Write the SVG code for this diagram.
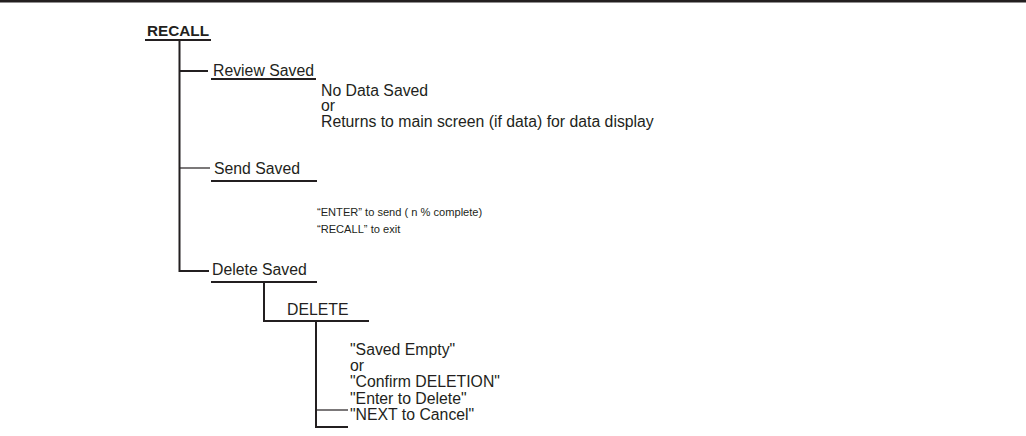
<svg xmlns="http://www.w3.org/2000/svg" width="1026" height="436" viewBox="0 0 1026 436">
<style>
.t{font-family:"Liberation Sans",Arial,sans-serif;font-size:15.8px;fill:#231f20}
.s{font-family:"Liberation Sans",Arial,sans-serif;font-size:11.1px;fill:#231f20}
.b{font-family:"Liberation Sans",Arial,sans-serif;font-size:15.3px;font-weight:bold;fill:#231f20}
.l{stroke:#231f20;stroke-width:2;fill:none}
.th{stroke:#231f20;stroke-width:1.2;fill:none}
</style>
<rect width="1026" height="436" fill="#ffffff"/>
<line x1="0" y1="1.2" x2="1026" y2="1.2" stroke="#231f20" stroke-width="2.4"/>
<g id="connectors">
<polyline class="l" points="179.5,40 179.5,271 209,271"/>
<line class="l" x1="179.5" y1="71" x2="208" y2="71"/>
<line class="th" x1="179.5" y1="168" x2="210" y2="168"/>
<polyline class="l" points="264,282 264,321"/>
<polyline class="l" points="316,321 316,427 348,427"/>
<line class="th" x1="316" y1="410" x2="348" y2="410"/>
</g>
<g id="recall">
<text class="b" x="147" y="36">RECALL</text>
<line class="l" x1="145" y1="40" x2="211" y2="40"/>
</g>
<g id="review-saved">
<text class="t" x="213" y="76">Review Saved</text>
<line class="l" x1="211" y1="79" x2="316" y2="79"/>
</g>
<g id="review-result">
<text class="t" x="321" y="96">No Data Saved</text>
<text class="t" x="321" y="111">or</text>
<text class="t" x="321" y="127">Returns to main screen (if data) for data display</text>
</g>
<g id="send-saved">
<text class="t" x="214" y="174">Send Saved</text>
<line class="l" x1="211" y1="181" x2="317" y2="181"/>
</g>
<g id="send-result">
<text class="s" x="317" y="216">“ENTER” to send ( n % complete)</text>
<text class="s" x="317" y="233">“RECALL” to exit</text>
</g>
<g id="delete-saved">
<text class="t" x="212" y="275">Delete Saved</text>
<line class="l" x1="211" y1="282" x2="317" y2="282"/>
</g>
<g id="delete">
<text class="t" x="287" y="315">DELETE</text>
<line class="l" x1="263" y1="321" x2="369" y2="321"/>
</g>
<g id="delete-result">
<text class="t" x="350" y="355">"Saved Empty"</text>
<text class="t" x="350" y="371">or</text>
<text class="t" x="350" y="387">"Confirm DELETION"</text>
</g>
<g id="enter-to-delete">
<text class="t" x="350" y="404">"Enter to Delete"</text>
</g>
<g id="next-to-cancel">
<text class="t" x="350" y="420">"NEXT to Cancel"</text>
</g>
</svg>
